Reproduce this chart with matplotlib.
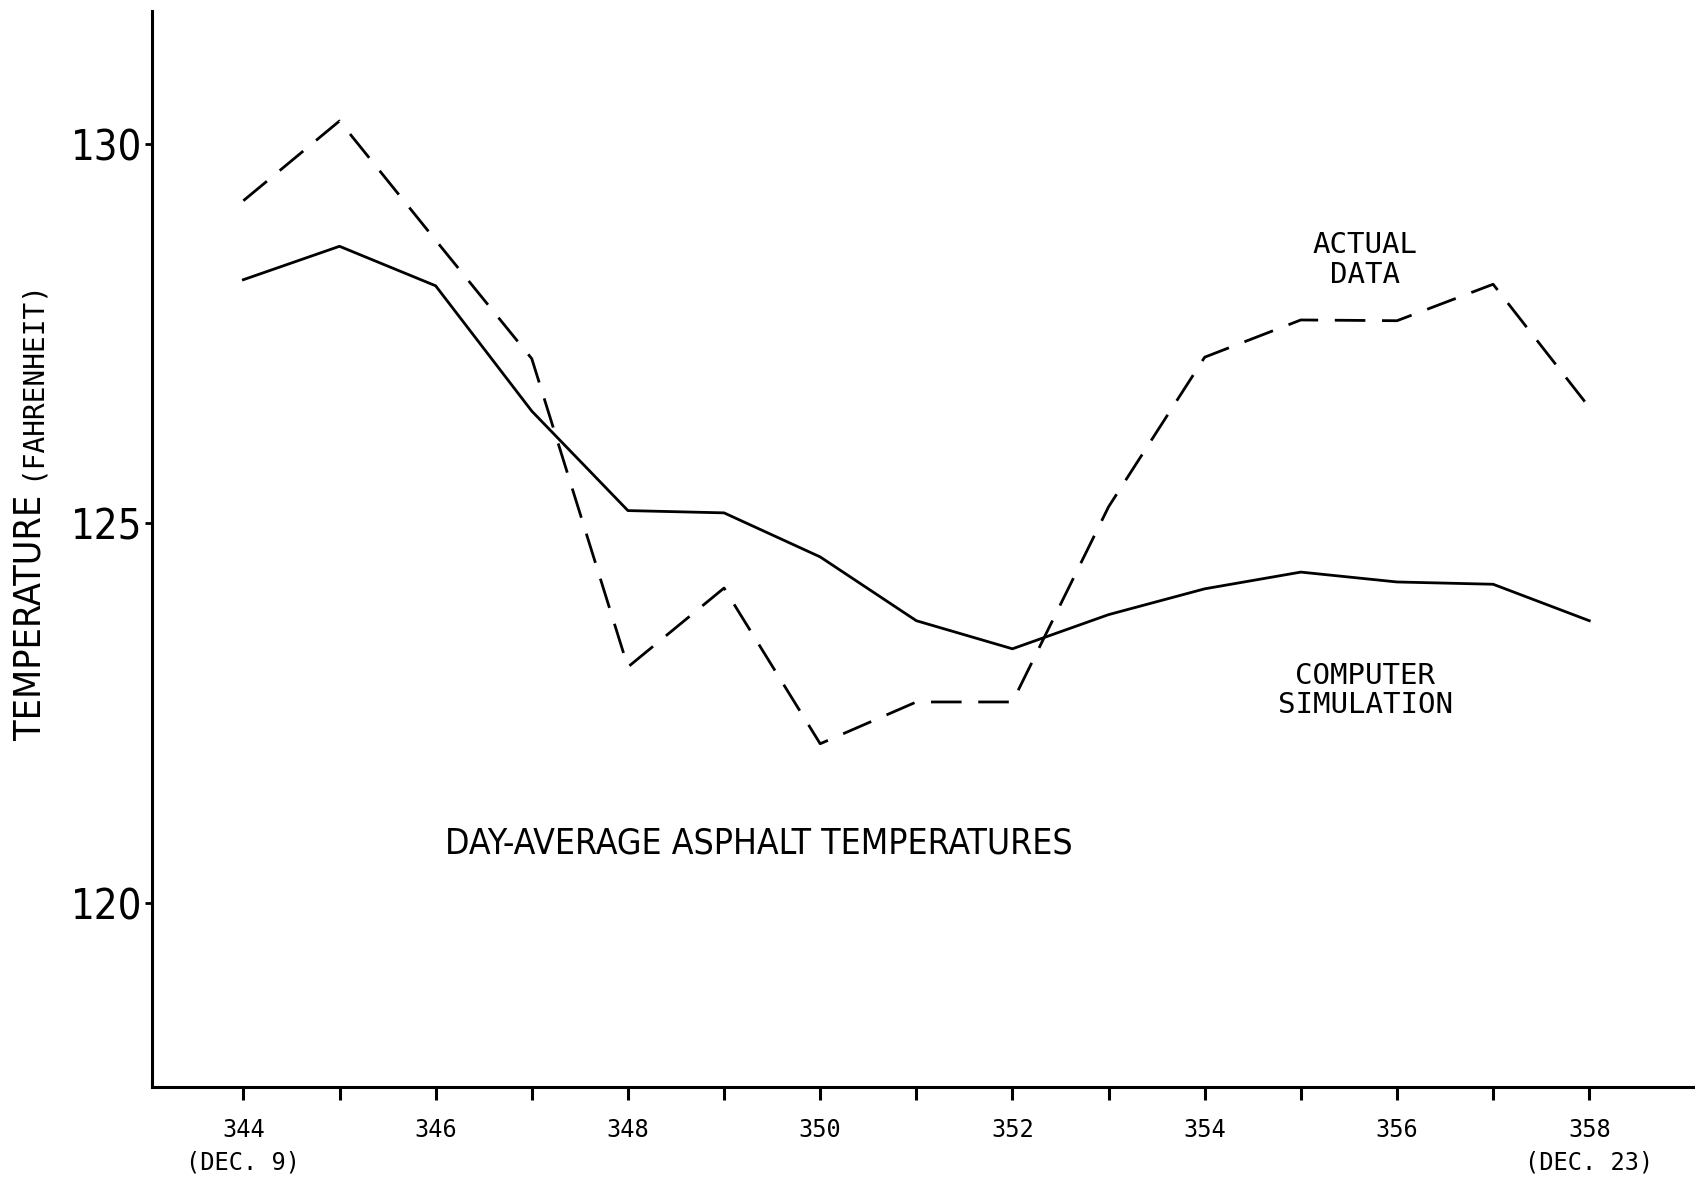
import numpy as np
import matplotlib.pyplot as plt

# day of year, Dec 9 .. Dec 23
days = [344, 345, 346, 347, 348, 349, 350, 351, 352, 353, 354, 355, 356, 357, 358]

actual = [129.25, 130.3, 128.73, 127.17, 123.11, 124.15, 122.1, 122.65, 122.65,
          125.22, 127.19, 127.68, 127.67, 128.15, 126.53]
simulated = [128.21, 128.65, 128.13, 126.48, 125.17, 125.14, 124.56, 123.72, 123.35,
             123.8, 124.14, 124.36, 124.23, 124.2, 123.72]

yticks = [120, 125, 130]
xticks = [344, 346, 348, 350, 352, 354, 356, 358]
xticklabels = ["344\n(DEC. 9)", "346", "348", "350", "352", "354", "356", "358\n(DEC. 23)"]

narrow = dict(family='DejaVu Sans', stretch='condensed')
mono = ['DejaVu Sans Mono']

fig = plt.figure(figsize=(16.95, 11.80), dpi=100)
ax = fig.add_axes([0.0897, 0.0788, 0.9103, 0.912])

ax.plot(days, simulated, color="black", lw=2.0)
ax.plot(days, actual, color="black", lw=2.0, dashes=[11, 6])

ax.set_xlim(343.05, 359.1)
ax.set_ylim(117.58, 131.75)

ax.spines["top"].set_visible(False)
ax.spines["right"].set_visible(False)
ax.spines["left"].set_linewidth(2.2)
ax.spines["bottom"].set_linewidth(2.2)

ax.set_yticks(yticks)
ax.set_yticklabels([str(v) for v in yticks], fontsize=30, **narrow)
ax.tick_params(axis="y", length=5, width=2, pad=2)

ax.set_xticks(xticks)
ax.set_xticklabels(xticklabels, family=mono, fontsize=17, linespacing=1.45)
ax.set_xticks(days, minor=True)
ax.tick_params(axis="x", which="both", length=9, width=2.2, pad=13)

ax.text(355.67, 128.47, "ACTUAL\nDATA", family=mono, fontsize=21,
        ha="center", va="center", linespacing=1.05)
ax.text(355.67, 122.8, "COMPUTER\nSIMULATION", family=mono, fontsize=21,
        ha="center", va="center", linespacing=1.05)
ax.text(349.36, 120.79, "DAY-AVERAGE ASPHALT TEMPERATURES", fontsize=25.5,
        ha="center", va="center", **narrow)

fig.text(31 / 1695, 1 - 617 / 1180, "TEMPERATURE", fontsize=27,
         rotation=90, ha="center", va="center", **narrow)
fig.text(31 / 1695, 1 - 380 / 1180, "(FAHRENHEIT)", family=mono, fontsize=20,
         rotation=90, ha="center", va="center")

fig.savefig("out.png", dpi=100)
